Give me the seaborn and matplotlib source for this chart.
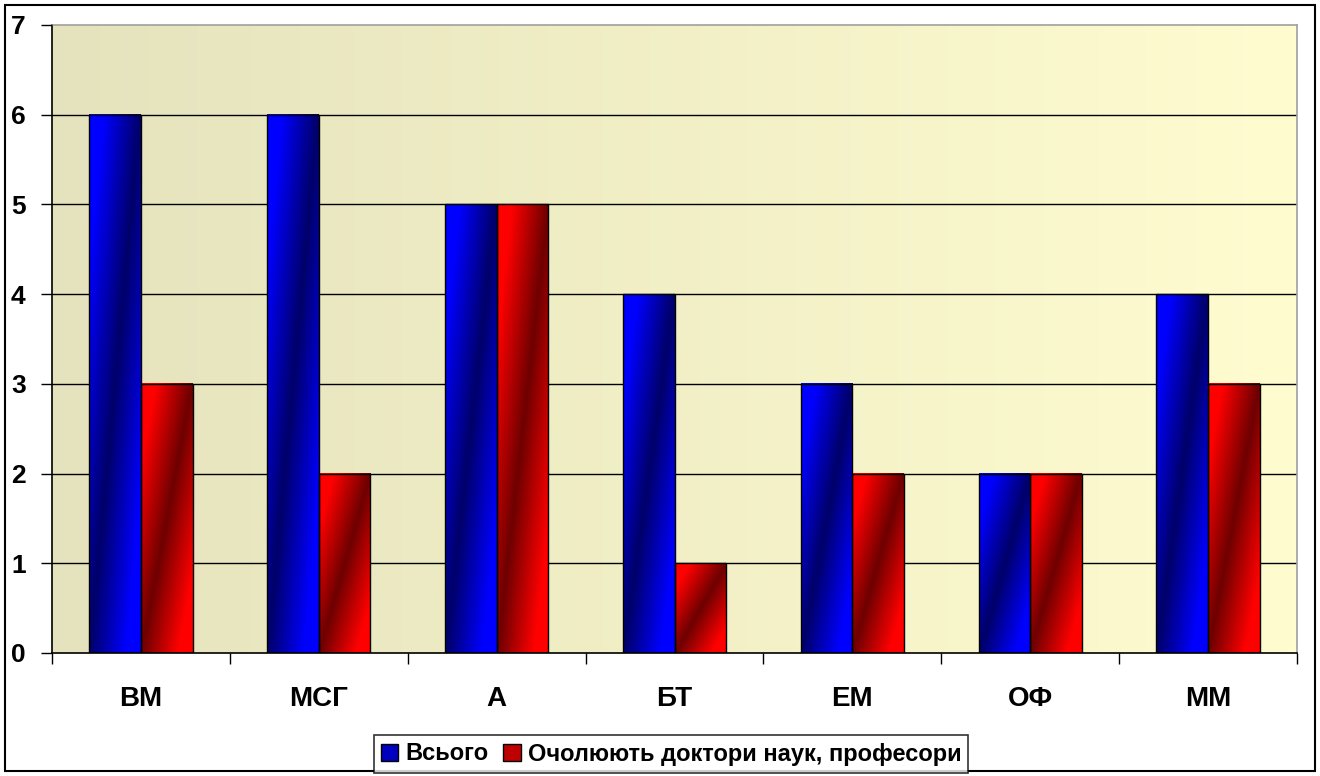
import numpy as np
import pandas as pd
import matplotlib
matplotlib.use("Agg")
import matplotlib.pyplot as plt
import seaborn as sns
from matplotlib.patches import Patch, Rectangle

categories = ["ВМ", "МСГ", "А", "БТ", "ЕМ", "ОФ", "ММ"]
total = [6, 6, 5, 4, 3, 2, 4]
heads = [3, 2, 5, 1, 2, 2, 3]
series_names = ["Всього", "Очолюють доктори наук, професори"]
yticks = [0, 1, 2, 3, 4, 5, 6, 7]

sns.set_theme(style="white")
plt.rcParams['font.family'] = ['Liberation Sans', 'DejaVu Sans']
plt.rcParams['text.color'] = 'black'
plt.rcParams['xtick.color'] = 'black'
plt.rcParams['ytick.color'] = 'black'
plt.rcParams['xtick.labelcolor'] = 'black'
plt.rcParams['ytick.labelcolor'] = 'black'

df = pd.DataFrame({
    "cat": categories * 2,
    "val": total + heads,
    "series": [series_names[0]] * len(categories) + [series_names[1]] * len(categories),
})

fig = plt.figure(figsize=(13.2, 7.76), dpi=100)
fig.patch.set_facecolor("white")
ax = fig.add_axes([52/1320, 1-653/776, (1297-52)/1320, (653-25)/776])

bright = {series_names[0]: np.array([0, 0, 255]) / 255, series_names[1]: np.array([255, 0, 0]) / 255}
dark = {series_names[0]: np.array([0, 0, 105]) / 255, series_names[1]: np.array([110, 0, 0]) / 255}

sns.barplot(data=df, x="cat", y="val", hue="series", ax=ax, width=0.58,
            palette=[tuple(bright[s]) for s in series_names], legend=False,
            edgecolor="black", linewidth=1.0, saturation=1, zorder=3)

# background gradient
bg = np.linspace(0, 1, 256)
c0 = np.array([229, 227, 189]) / 255
c1 = np.array([255, 252, 208]) / 255
bgimg = (c0[None, :] * (1 - bg[:, None]) + c1[None, :] * bg[:, None])[None, :, :]
ax.imshow(bgimg, extent=[0, 1, 0, 1], transform=ax.transAxes, aspect="auto", zorder=0)

# gradient fill for bars
n_cat = len(categories)
bars = [p for p in ax.patches if isinstance(p, Rectangle)]
for i, p in enumerate(bars[:2 * n_cat]):
    s = series_names[i // n_cat]
    x0, y0 = p.get_x(), p.get_y()
    w, h = p.get_width(), p.get_height()
    u = np.linspace(0, 1, 60)[None, :]
    v = np.linspace(0, 1, 200)[:, None]
    t = np.clip(np.abs(u - v) * 1.4, 0, 1)
    img = dark[s][None, None, :] * (1 - t[..., None]) + bright[s][None, None, :] * t[..., None]
    ax.imshow(img, extent=[x0, x0 + w, y0, y0 + h], origin="lower", aspect="auto", zorder=2.5)
    p.set_facecolor("none")
    p.set_zorder(3)

ax.set_xlim(-0.5, n_cat - 0.5)
ax.set_ylim(0, 7)
ax.set_yticks(yticks)
ax.set_yticklabels([str(t) for t in yticks], fontsize=19, fontweight="bold", color="black")
ax.set_xticks(range(n_cat))
ax.set_xticklabels(categories, fontsize=20, fontweight="bold", color="black")
ax.set_xticks(np.arange(-0.5, n_cat, 1), minor=True)
ax.tick_params(axis="x", which="both", bottom=True)
ax.tick_params(axis="y", which="both", left=True)
ax.tick_params(axis="x", which="major", length=0, pad=24)
ax.tick_params(axis="x", which="minor", length=8, width=1, color="black", direction="out")
ax.tick_params(axis="y", which="major", length=8, width=1, color="black", direction="out", pad=11)
ax.set_xlabel("")
ax.set_ylabel("")
for y in yticks[1:-1]:
    ax.axhline(y, color="black", linewidth=1.0, zorder=1)
ax.spines["left"].set_color("black")
ax.spines["bottom"].set_color("black")
ax.spines["top"].set_color("#a0a0a0")
ax.spines["right"].set_color("#a0a0a0")
for sp in ax.spines.values():
    sp.set_linewidth(1.2)
ax.set_axisbelow(False)

handles = [Patch(facecolor=tuple(bright[series_names[0]] * 0.75), edgecolor="black", label=series_names[0]),
           Patch(facecolor=tuple(bright[series_names[1]] * 0.75), edgecolor="black", label=series_names[1])]
leg = fig.legend(handles=handles, loc="center", bbox_to_anchor=(671/1320, 1-754/776), ncol=2,
                 frameon=True, fancybox=False, edgecolor="black",
                 prop={"weight": "bold", "size": 17}, handlelength=0.75, handleheight=0.75,
                 handletextpad=0.3, columnspacing=0.6, borderpad=0.3)
leg.get_frame().set_linewidth(1.2)
for txt in leg.get_texts():
    txt.set_color("black")

fig.add_artist(Rectangle((5/1320, 5/776), 1310/1320, 766/776, transform=fig.transFigure,
                         fill=False, edgecolor="black", linewidth=1.5))

fig.savefig("out.png", dpi=100)
